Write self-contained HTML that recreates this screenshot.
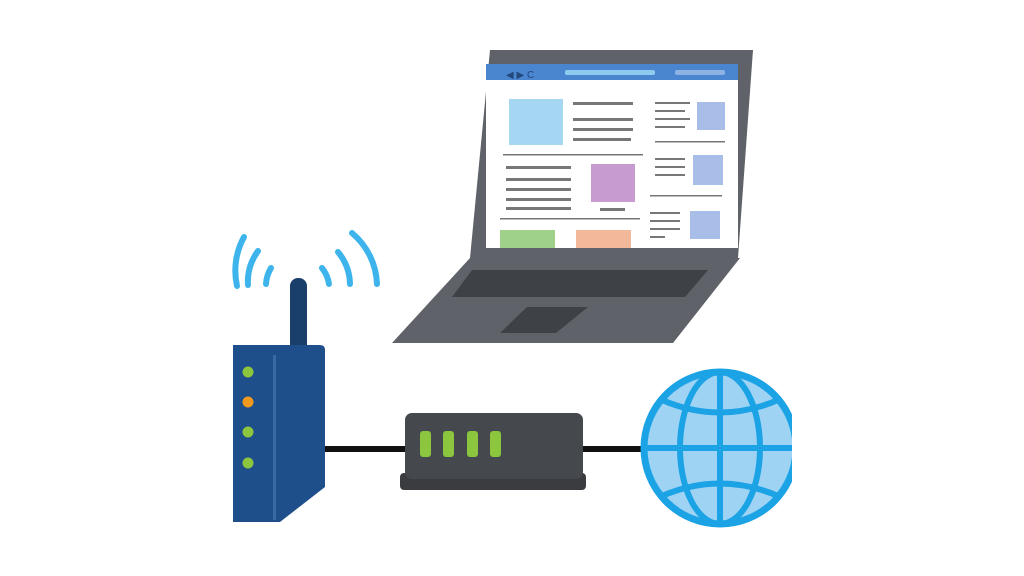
<!DOCTYPE html>
<html><head><meta charset="utf-8"><style>html,body{margin:0;padding:0;background:#fff}svg{display:block}</style></head>
<body>
<svg width="1024" height="576" viewBox="0 0 1024 576" xmlns="http://www.w3.org/2000/svg">
<rect width="1024" height="576" fill="#fff"/>
<!-- laptop base -->
<polygon points="470,258 740,258 673,343 392,343" fill="#5f6369"/>
<polygon points="472,270 708,270 685,297 452,297" fill="#3e4146"/>
<polygon points="527,307 588,307 556,333 500,333" fill="#3e4146"/>
<!-- laptop lid -->
<polygon points="490,50 753,50 738,258 470,258" fill="#5f6369"/>
<rect x="486" y="64" width="252" height="184" fill="#fff"/>
<rect x="486" y="64" width="252" height="16" fill="#4a86d0"/>
<rect x="565" y="70" width="90" height="5" rx="2" fill="#8ecbee"/>
<rect x="675" y="70" width="50" height="5" rx="2" fill="#8db3e4"/>
<text x="506" y="78" font-family="Liberation Sans, sans-serif" font-size="10" fill="#23487a">◀ ▶ C</text>
<rect x="509" y="99" width="54" height="46" fill="#a6d7f2"/>
<rect x="591" y="164" width="44" height="38" fill="#c79bd0"/>
<rect x="500" y="230" width="55" height="18" fill="#9fd18a"/>
<rect x="576" y="230" width="55" height="18" fill="#f2b89a"/>
<rect x="697" y="102" width="28" height="28" fill="#a8bee8"/>
<rect x="693" y="155" width="30" height="30" fill="#a8bee8"/>
<rect x="690" y="211" width="30" height="28" fill="#a8bee8"/>
<g fill="#777">
<rect x="573" y="102" width="60" height="3"/><rect x="573" y="118" width="60" height="3"/><rect x="573" y="128" width="60" height="3"/><rect x="573" y="138" width="58" height="3"/>
<rect x="503" y="154" width="140" height="1.5"/><rect x="506" y="166" width="65" height="3"/><rect x="506" y="178" width="65" height="3"/><rect x="506" y="188" width="65" height="3"/><rect x="506" y="198" width="65" height="3"/><rect x="506" y="207" width="65" height="3"/>
<rect x="600" y="208" width="25" height="3"/><rect x="500" y="218" width="140" height="1.5"/>
<rect x="655" y="102" width="35" height="2"/><rect x="655" y="110" width="30" height="2"/><rect x="655" y="118" width="35" height="2"/><rect x="655" y="126" width="30" height="2"/>
<rect x="655" y="141" width="70" height="1.5"/><rect x="655" y="158" width="30" height="2"/><rect x="655" y="166" width="30" height="2"/><rect x="655" y="174" width="30" height="2"/>
<rect x="650" y="195" width="72" height="1.5"/><rect x="650" y="212" width="30" height="2"/><rect x="650" y="220" width="30" height="2"/><rect x="650" y="228" width="30" height="2"/><rect x="650" y="236" width="15" height="2"/>
</g>
<!-- cable -->
<rect x="320" y="446" width="340" height="6" fill="#111"/>
<!-- waves -->
<g fill="none" stroke="#3db4ec" stroke-width="6" stroke-linecap="round">
<path d="M266,284 A34,34 0 0 1 271,268"/>
<path d="M248,285 A52,52 0 0 1 258,251"/>
<path d="M237,286 A70,70 0 0 1 244,237"/>
<path d="M329,284 A34,34 0 0 0 322,268"/>
<path d="M350,284 A52,52 0 0 0 338,252"/>
<path d="M377,284 A70,70 0 0 0 352,233"/>
</g>
<!-- router -->
<rect x="290" y="278" width="17" height="80" rx="8" fill="#1b3f6b"/>
<path d="M233,345 H320 Q325,345 325,350 V487 L280,522 H233 Z" fill="#1f4f8a"/>
<rect x="273" y="355" width="3" height="165" fill="#3a6aa3"/>
<circle cx="248" cy="372" r="5.5" fill="#8cc63f"/>
<circle cx="248" cy="402" r="5.5" fill="#f39a1e"/>
<circle cx="248" cy="432" r="5.5" fill="#8cc63f"/>
<circle cx="248" cy="463" r="5.5" fill="#8cc63f"/>
<!-- modem -->
<rect x="400" y="473" width="186" height="17" rx="4" fill="#3a3c40"/>
<rect x="405" y="413" width="178" height="66" rx="7" fill="#45484d"/>
<rect x="420" y="431" width="11" height="26" rx="3" fill="#8cc63f"/>
<rect x="443" y="431" width="11" height="26" rx="3" fill="#8cc63f"/>
<rect x="467" y="431" width="11" height="26" rx="3" fill="#8cc63f"/>
<rect x="490" y="431" width="11" height="26" rx="3" fill="#8cc63f"/>
<!-- globe -->
<defs><clipPath id="c"><rect x="0" y="0" width="792" height="576"/></clipPath></defs>
<g clip-path="url(#c)">
<circle cx="720" cy="448" r="76" fill="#9fd3f3" stroke="#1ba3e6" stroke-width="7"/>
<g fill="none" stroke="#1ba3e6" stroke-width="6">
<line x1="720" y1="372" x2="720" y2="524"/>
<line x1="644" y1="448" x2="796" y2="448"/>
<ellipse cx="720" cy="448" rx="40" ry="76"/>
<path d="M662,400 Q720,425 778,400"/>
<path d="M662,496 Q720,471 778,496"/>
</g>
</g>
</svg>
</body></html>
